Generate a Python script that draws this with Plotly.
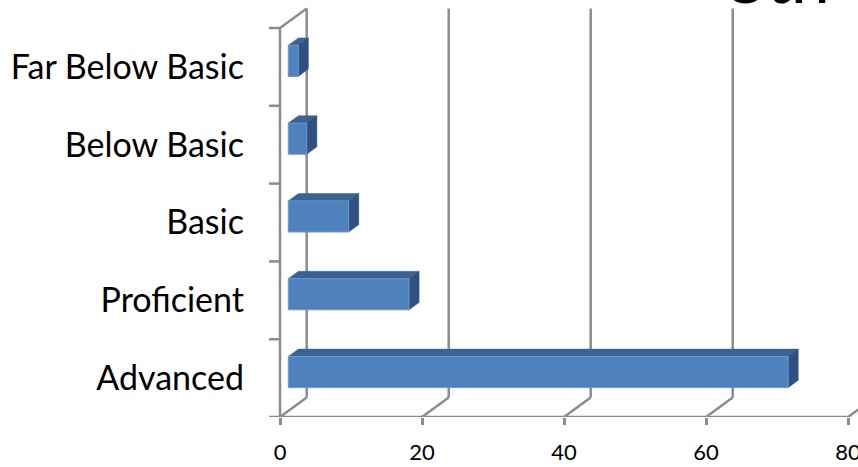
import plotly.graph_objects as go

# ---- data ----
categories = ["Advanced", "Proficient", "Basic", "Below Basic", "Far Below Basic"]
values = [70.4, 17.0, 8.5, 2.6, 1.4]
x_ticks = [0, 20, 40, 60, 80]
title_text = "8th"

# ---- 3D projection style (in axis units) ----
DX = 3.76      # depth offset along value axis
DY = 0.25      # depth offset along category axis
F1, F2 = 0.31, 0.69   # bar front/back depth fractions
HALF = 0.2     # bar half-thickness (category units)
TICK_L = 1.55  # left-wall tick length (value units)

GRID = "#8C8C8C"
FRONT = "#4F81BD"
TOP = "#3C6292"
SIDE = "#2F5080"

n = len(categories)
lo, hi = -0.5, n - 0.5

# wall / grid lines
lx, ly = [], []
def seg(x0, y0, x1, y1):
    lx.extend([x0, x1, None]); ly.extend([y0, y1, None])

seg(0, lo, 0, hi)                     # left wall front edge
seg(0, hi, DX, hi + DY)               # left wall top edge
for k in range(n + 1):                # category tick marks
    b = lo + k
    seg(-TICK_L, b, 0, b)
seg(0, lo, max(x_ticks), lo)          # front floor
for v in x_ticks:
    seg(v, lo, v + DX, lo + DY)       # floor diagonals
    seg(v + DX, lo + DY, v + DX, hi + DY)  # back-wall gridlines

fig = go.Figure()
fig.add_trace(go.Scatter(x=lx, y=ly, mode="lines",
                         line=dict(color=GRID, width=2.5),
                         hoverinfo="skip", showlegend=False))

fx, fy, tx, ty, sx, sy = [], [], [], [], [], []
for i, v in enumerate(values):
    x1, x2 = F1 * DX, F2 * DX
    c1, c2 = i + F1 * DY, i + F2 * DY
    # front face
    fx += [x1, x1 + v, x1 + v, x1, x1, None]
    fy += [c1 - HALF, c1 - HALF, c1 + HALF, c1 + HALF, c1 - HALF, None]
    # top face
    tx += [x1, x1 + v, x2 + v, x2, x1, None]
    ty += [c1 + HALF, c1 + HALF, c2 + HALF, c2 + HALF, c1 + HALF, None]
    # side face
    sx += [x1 + v, x2 + v, x2 + v, x1 + v, x1 + v, None]
    sy += [c1 - HALF, c2 - HALF, c2 + HALF, c1 + HALF, c1 - HALF, None]

fig.add_trace(go.Scatter(x=tx, y=ty, fill="toself", fillcolor=TOP, mode="lines",
                         line=dict(color=TOP, width=0.5), hoverinfo="skip", showlegend=False))
fig.add_trace(go.Scatter(x=sx, y=sy, fill="toself", fillcolor=SIDE, mode="lines",
                         line=dict(color=SIDE, width=0.5), hoverinfo="skip", showlegend=False))
fig.add_trace(go.Scatter(x=fx, y=fy, fill="toself", fillcolor=FRONT, mode="lines",
                         line=dict(color="#6E97CB", width=1), hoverinfo="skip", showlegend=False))

W, H = 858, 467
L, R, T, B = 260, 0, 0, 50
px_per_unit = 7.1
px_per_cat = 77.8
x_min = -(280 - L) / px_per_unit
x_max = (W - R - 280) / px_per_unit
y_max = lo + (H - T - B) / px_per_cat

fig.add_annotation(text=title_text, xref="paper", yref="paper",
                   x=(832 - L) / (W - L - R), xanchor="right",
                   y=1 - 19.5 / (H - T - B), yanchor="bottom",
                   showarrow=False, font=dict(family="Lato", size=70, color="black"))

fig.update_layout(
    width=W, height=H,
    margin=dict(l=L, r=R, t=T, b=B),
    paper_bgcolor="white", plot_bgcolor="white",
    showlegend=False,
    xaxis=dict(range=[x_min, x_max], tickvals=x_ticks, ticktext=[str(t) for t in x_ticks],
               ticks="outside", ticklen=7, tickwidth=2.5, tickcolor=GRID,
               showgrid=False, zeroline=False, showline=False, automargin=False,
               ticklabelstandoff=9, ticklabeloverflow="allow",
               tickfont=dict(family="Lato", size=22, color="black")),
    yaxis=dict(range=[lo, y_max], tickvals=list(range(n)), ticktext=categories,
               ticks="", showgrid=False, zeroline=False, showline=False, automargin=False,
               ticklabelstandoff=15,
               tickfont=dict(family="Lato", size=34, color="black")),
)

fig.write_html("out.html")
